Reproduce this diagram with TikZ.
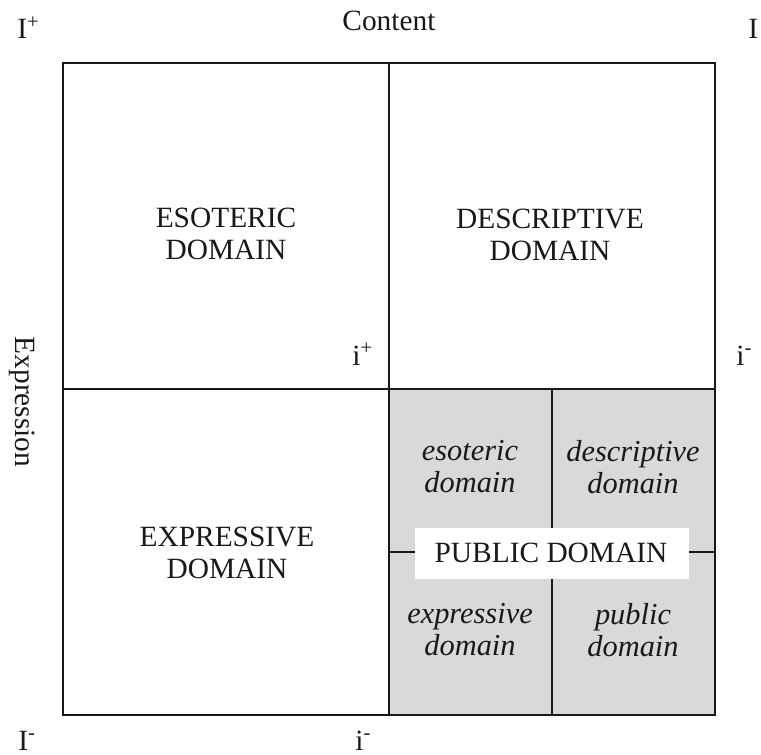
\documentclass[tikz,border=0pt]{standalone}
\usepackage{fontspec}
\setmainfont{Liberation Serif}
\definecolor{paleGrey}{RGB}{217, 217, 217}
\definecolor{ink}{RGB}{25, 25, 25}

\tikzset{
  txt/.style={font=\fontsize{14.7}{16}\selectfont, text=ink},
  area/.style={txt, align=center},
  subarea/.style={txt, align=center, font=\fontsize{15.2}{16}\selectfont\itshape},
  corner/.style={txt, anchor=base west, inner sep=0pt},
  border/.style={draw=ink, line width=1pt}
}

\begin{document}
\begin{tikzpicture}[x=0.5pt, y=-0.5pt]
  \useasboundingbox (0, 0) rectangle (761, 755);
  \pgfmathsetmacro{\lo}{63}
  \pgfmathsetmacro{\mi}{389}
  \pgfmathsetmacro{\hi}{715}
  \pgfmathsetmacro{\qm}{552}

  % public quarter
  \fill[paleGrey] (\mi, \mi) rectangle (\hi, \hi);
  \draw[border] (\qm, \mi) -- (\qm, \hi);
  \draw[border] (\mi, \qm) -- (\hi, \qm);

  \draw[border] (\lo, \lo) rectangle (\hi, \hi);
  \draw[border] (\mi, \lo) -- (\mi, \hi);
  \draw[border] (\lo, \mi) -- (\hi, \mi);

  \node[area] (esoteric) at (226, 234) {ESOTERIC\\DOMAIN};
  \node[area] (descriptive) at (550, 235) {DESCRIPTIVE\\DOMAIN};
  \node[area] (expressive) at (227, 553) {EXPRESSIVE\\DOMAIN};

  \node[subarea] (esoSub) at (470, 467) {esoteric\\domain};
  \node[subarea] (desSub) at (633, 467) {descriptive\\domain};
  \node[subarea] (expSub) at (470, 630) {expressive\\domain};
  \node[subarea] (pubSub) at (633, 630) {public\\domain};

  \fill[white] (415, 528) rectangle (689, 579);
  \node[area] (public) at (551, 553) {PUBLIC DOMAIN};

  % axes
  \node[corner] (content) at (342, 31) {Content};
  \node[txt, rotate=-90] (expression) at (22, 402) {Expression};

  \node[corner] (Iplus) at (17, 39) {I\textsuperscript{+}};
  \node[corner] (Itop) at (748, 39) {I};
  \node[corner] (iplus) at (352, 365) {i\textsuperscript{+}};
  \node[corner] (iright) at (736, 365) {i\textsuperscript{-}};
  \node[corner] (Iminus) at (18, 750) {I\textsuperscript{-}};
  \node[corner] (ibottom) at (355, 750) {i\textsuperscript{-}};
\end{tikzpicture}
\end{document}
